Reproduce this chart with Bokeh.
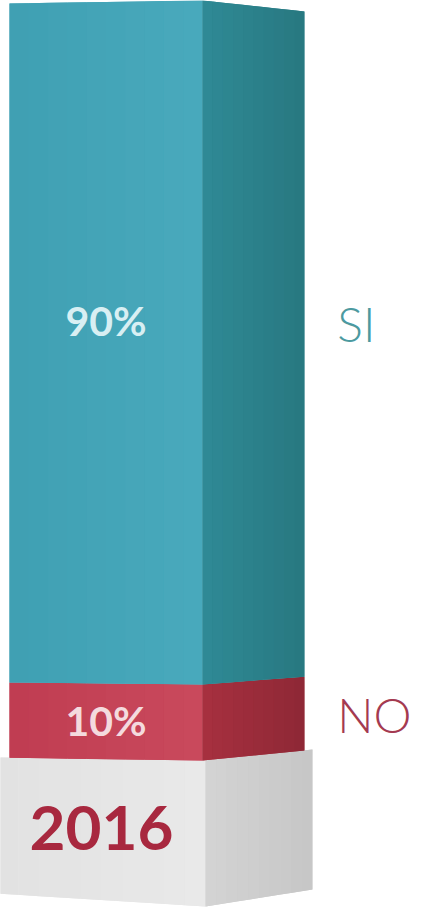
import numpy as np
from bokeh.plotting import figure
from bokeh.models import Range1d, ColumnDataSource
from bokeh.core.properties import value
from bokeh.embed import file_html
from bokeh.resources import INLINE

# ---------------- data ----------------
series = ["NO", "SI"]
values = [10, 90]
pct_labels = ["10%", "90%"]
year_label = "2016"

# ---------------- style ----------------
front_cols = [("#c03c51", "#c94a5d"), ("#3f9fb3", "#49aabc")]
side_cols = [("#a7303f", "#8e2836"), ("#2f8a96", "#287880")]
pct_colors = ["#f4dade", "#d8eff3"]
name_colors = ["#a43a50", "#4c9aa0"]
pct_dy = [-2, -22]
name_dy = [-8, -19]
year_color = "#a8283f"

W, H = 415, 907
PX_X = 193.0
PX_Y = 7.6
X0 = -9 / PX_X
Y1 = 100.0

FRONT_W = 1.0
SIDE_W = 0.528
COL_FCONV, COL_FEYE = 0.0074, 47.5
COL_SCONV, COL_SEYE = 0.0274, 47.6

BASE_XL, BASE_XC, BASE_D = -0.062, 1.0155, 0.554
BASE_H = 19.2
BASE_FCONV, BASE_FEYE = 0.068, 5.7
BASE_SCONV, BASE_SEYE = 0.0406, 35.5
N = 10


def mix(c1, c2, t):
    a = [int(c1[i:i + 2], 16) for i in (1, 3, 5)]
    b = [int(c2[i:i + 2], 16) for i in (1, 3, 5)]
    return "#%02x%02x%02x" % tuple(int(round(a[k] + (b[k] - a[k]) * t)) for k in range(3))


def fy(v, t, conv, eye):  # front face, t=0 left edge, t=1 corner
    return v + conv * (1 - t) * (eye - v)


def sy(v, s, conv, eye):  # side face, s=0 corner, s=1 far edge
    return v + conv * s * (eye - v)


def box(xl, xc, d, bot, top, fconv, feye, sconv, seye, fcols, scols):
    xs, ys, cs = [], [], []
    # full faces underneath (hide seams between gradient strips)
    xs.append([xl, xc, xc, xl])
    ys.append([fy(bot, 0, fconv, feye), fy(bot, 1, fconv, feye),
               fy(top, 1, fconv, feye), fy(top, 0, fconv, feye)])
    cs.append(mix(fcols[0], fcols[1], 0.5))
    xs.append([xc, xc + d, xc + d, xc])
    ys.append([sy(bot, 0, sconv, seye), sy(bot, 1, sconv, seye),
               sy(top, 1, sconv, seye), sy(top, 0, sconv, seye)])
    cs.append(mix(scols[0], scols[1], 0.5))
    for i in range(N):
        t0, t1 = i / N, (i + 1) / N
        xa, xb = xl + (xc - xl) * t0, xl + (xc - xl) * t1
        xs.append([xa, xb, xb, xa])
        ys.append([fy(bot, t0, fconv, feye), fy(bot, t1, fconv, feye),
                   fy(top, t1, fconv, feye), fy(top, t0, fconv, feye)])
        cs.append(mix(fcols[0], fcols[1], (i + 0.5) / N))
    for i in range(N):
        s0, s1 = i / N, (i + 1) / N
        xa, xb = xc + d * s0, xc + d * s1
        xs.append([xa, xb, xb, xa])
        ys.append([sy(bot, s0, sconv, seye), sy(bot, s1, sconv, seye),
                   sy(top, s1, sconv, seye), sy(top, s0, sconv, seye)])
        cs.append(mix(scols[0], scols[1], (i + 0.5) / N))
    return xs, ys, cs


p = figure(width=W, height=H, x_range=Range1d(X0, X0 + W / PX_X),
           y_range=Range1d(Y1 - H / PX_Y, Y1), output_backend="svg",
           toolbar_location=None, min_border=0,
           x_axis_location=None, y_axis_location=None)
p.grid.visible = False
p.outline_line_color = None
p.background_fill_color = "white"

# base
bx, by, bc = box(BASE_XL, BASE_XC, BASE_D, -BASE_H, 0, BASE_FCONV, BASE_FEYE,
                 BASE_SCONV, BASE_SEYE, ("#e2e2e2", "#e9e9e9"), ("#d4d4d4", "#c6c6c6"))
p.patches(xs=bx, ys=by, fill_color=bc, line_color=None)

# stacked column
bottoms = np.concatenate([[0], np.cumsum(values)[:-1]])
tops = np.cumsum(values)
for k in range(len(values)):
    xs, ys, cs = box(0, FRONT_W, SIDE_W, bottoms[k], tops[k], COL_FCONV, COL_FEYE,
                     COL_SCONV, COL_SEYE, front_cols[k], side_cols[k])
    p.patches(xs=xs, ys=ys, fill_color=cs, line_color=None)

mids = (bottoms + tops) / 2.0
src = ColumnDataSource(dict(x=[FRONT_W / 2] * len(values), y=mids, text=pct_labels,
                            color=pct_colors, dy=pct_dy))
p.text(x="x", y="y", text="text", source=src, text_color="color", y_offset="dy",
       text_font=value("Lato"), text_font_style="bold", text_font_size="41px",
       text_align="center", text_baseline="middle")

src2 = ColumnDataSource(dict(x=[FRONT_W + SIDE_W + 0.17] * len(values), y=mids, text=series,
                             color=name_colors, dy=name_dy))
p.text(x="x", y="y", text="text", source=src2, text_color="color", y_offset="dy",
       text_font=value("Lato Light, Lato"), text_font_size="48px",
       text_align="left", text_baseline="middle")

p.text(x=[(BASE_XL + BASE_XC) / 2], y=[-BASE_H / 2], text=[year_label],
       text_color=year_color, y_offset=-5,
       text_font=value("Lato"), text_font_style="bold", text_font_size="62px",
       text_align="center", text_baseline="middle")

open("out.html", "w").write(file_html(p, INLINE))
